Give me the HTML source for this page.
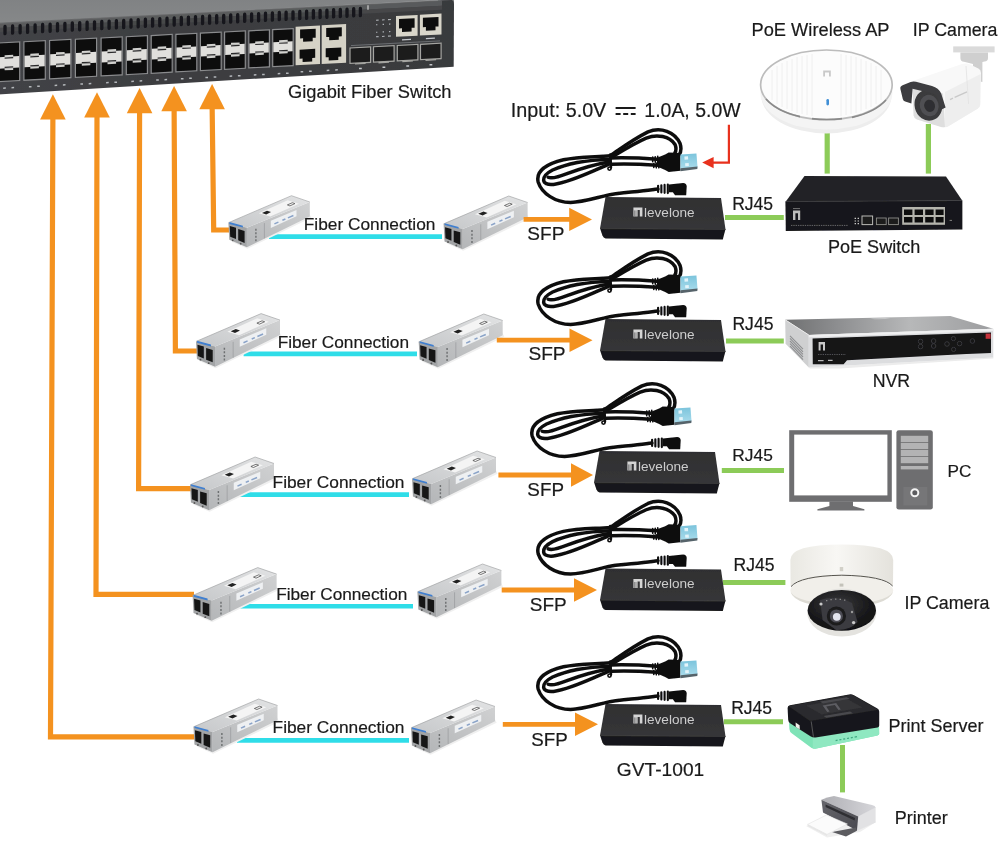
<!DOCTYPE html>
<html lang="en">
<head>
<meta charset="utf-8">
<title>GVT-1001 Application Diagram</title>
<style>
html,body{margin:0;padding:0;background:#fff;}
body{width:1000px;height:852px;overflow:hidden;}
svg{display:block;}
svg text{font-family:"Liberation Sans",sans-serif;fill:#1a1a1a;stroke:#1a1a1a;stroke-width:0.2px;}
</style>
</head>
<body>
<svg width="1000" height="852" viewBox="0 0 1000 852">
<defs>
<filter id="soft" filterUnits="userSpaceOnUse" x="-20" y="-20" width="1040" height="892"><feGaussianBlur stdDeviation="0.45"/></filter>
<linearGradient id="gTop" x1="0" y1="0" x2="0" y2="1">
  <stop offset="0" stop-color="#7e8082"/><stop offset="1" stop-color="#868889"/>
</linearGradient>
<linearGradient id="gFront" gradientUnits="userSpaceOnUse" x1="0" y1="0" x2="454" y2="0">
  <stop offset="0" stop-color="#424346"/><stop offset="0.35" stop-color="#3d3e41"/><stop offset="1" stop-color="#393a3d"/>
</linearGradient>
<linearGradient id="gSfpTop" x1="0" y1="1" x2="1" y2="0">
  <stop offset="0" stop-color="#c6c8ca"/><stop offset="1" stop-color="#e2e3e4"/>
</linearGradient>
<linearGradient id="gSfpSide" x1="0" y1="1" x2="1" y2="0">
  <stop offset="0" stop-color="#b4b6b8"/><stop offset="1" stop-color="#d0d1d2"/>
</linearGradient>
<linearGradient id="gBoxTop" x1="0" y1="0" x2="0" y2="1">
  <stop offset="0" stop-color="#2f2f31"/><stop offset="1" stop-color="#363638"/>
</linearGradient>
<linearGradient id="gUsb" x1="0" y1="0" x2="0" y2="1">
  <stop offset="0" stop-color="#7cc4dc"/><stop offset="1" stop-color="#a9dcec"/>
</linearGradient>

<g id="sfp">
  <!-- soft shadow -->
  <path d="M3 46 L19 53 L83 22 L81 18 Z" fill="#f0f0f0"/>
  <!-- side face -->
  <path d="M18.5 32 L81.4 6.3 L81.4 20.7 L18.5 51.5 Z" fill="url(#gSfpSide)"/>
  <!-- top face -->
  <path d="M0 27 L63.1 0 L81.4 6.3 L18.5 32 Z" fill="url(#gSfpTop)"/>
  <path d="M0 27 L63.1 0 L81.4 6.3" fill="none" stroke="#9a9c9e" stroke-width="0.6"/>
  <!-- top label -->
  <path d="M30.4 17.6 L59.3 4.6 L70.6 8 L41.8 20.9 Z" fill="#f4f4f4"/>
  <path d="M33.6 17.2 L38.6 15 L42.6 16.4 L37.8 18.8 Z" fill="#222"/>
  <path d="M59 9.2 L64 7 L66.5 7.9 L61.5 10.2 Z" fill="none" stroke="#444" stroke-width="0.7"/>
  <!-- side label -->
  <path d="M42.4 25 L68.1 14.2 L68.1 20.6 L42.4 32.2 Z" fill="#eef0f2"/>
  <path d="M46 28.2 L50 26.4 M54 24.6 L57 23.3 M59.5 22.2 L65 19.8" stroke="#8aa3c8" stroke-width="1.5" fill="none"/>
  <!-- side vents -->
  <path d="M27.5 33 v2 M27.5 36.5 v2 M27.5 40 v2 M27.5 43.5 v2" stroke="#6d6f71" stroke-width="1.4"/>
  <path d="M36 27.4 L36 42.7" stroke="#999b9d" stroke-width="0.7"/>
  <!-- front face -->
  <path d="M0 27 L18.5 32 L18.5 51.5 L0.9 44 Z" fill="#a2a4a6"/>
  <path d="M1.4 30.2 L7.6 32 L7.6 43.4 L1.8 41 Z" fill="#161616"/>
  <path d="M9.8 33.4 L16.2 35.2 L16.2 47.2 L9.8 44.6 Z" fill="#161616"/>
  <path d="M1 26.4 L14.5 30 L14.5 31.8 L1 28.2 Z" fill="#3f7fd0"/>
  <circle cx="4.3" cy="44.6" r="0.9" fill="#555"/>
  <circle cx="12.3" cy="48" r="0.9" fill="#555"/>
</g>

<g id="conv">
  <!-- cable + plugs: drawn in 5.556x zoom coordinates, body top-left corner at (411,422) -->
  <g transform="translate(-73.97,-75.95) scale(0.18)">
    <g fill="none" stroke="#101011" stroke-width="19.5" stroke-linecap="round" stroke-linejoin="round">
      <path d="M705 378 C660 385 560 395 470 404 C400 412 300 452 220 452 C130 452 60 400 40 340 C25 280 80 240 180 215 C260 198 350 200 440 193"/>
      <path d="M440 212 C350 215 210 230 120 272 C50 308 55 360 125 352 C220 340 350 274 440 236"/>
      <path d="M440 226 C370 238 280 262 200 292 C150 312 115 322 95 312"/>
      <path d="M440 192 C490 160 560 105 650 60 C720 30 800 60 828 125 C836 150 835 170 822 188"/>
      <path d="M445 203 C500 170 570 125 640 95 C700 70 770 85 800 130 C808 150 806 168 798 180"/>
      <path d="M445 205 C530 203 620 206 700 212"/>
      <path d="M445 240 C530 236 620 240 700 246"/>
      <path d="M440 186 L444 258" stroke-width="14"/>
      <circle cx="436" cy="264" r="9" stroke-width="9"/>
      <path d="M676 200 v26 M690 198 v30 M704 196 v32 M682 236 v22 M696 234 v26 M710 232 v28" stroke-width="9"/>
    </g>
    <!-- usb plug -->
    <path d="M700 204 L745 186 L765 175 L830 178 L830 276 L765 283 L745 272 L700 252 Z" fill="#101011"/>
    <path d="M830 186 L919 180 L925 256 L830 266 Z" fill="url(#gUsb)"/>
    <path d="M830 262 L925 252 L924 266 L830 279 Z" fill="#56646b"/>
    <path d="M852 197 l20 -1 l1 18 l-20 1 Z M856 234 l20 -1 l1 17 l-20 1 Z" fill="#e3f4fa"/>
    <!-- mini connector -->
    <path d="M706 360 V394 M724 357 V397 M742 355 V399 M760 353 V400" stroke="#101011" stroke-width="12" stroke-linecap="round" fill="none"/>
    <path d="M766 352 L845 344 Q864 346 865 362 L862 412 L800 412 L788 396 L766 396 Z" fill="#101011"/>
  </g>
  <!-- body -->
  <path d="M-5 31 L120.5 32 L117.8 42.4 L0.6 41.4 Q-1.6 41 -2.6 38.6 Z" fill="#19191a"/>
  <path d="M0.5 0 L116 1 L120.5 32.5 L-5 31.5 Z" fill="url(#gBoxTop)"/>
  <path d="M-5 31.5 L120.5 32.5" stroke="#3c3c3e" stroke-width="0.8" fill="none"/>
  <!-- logo + brand -->
  <path d="M28.4 10.4 h9 v9 h-2.6 v-6.4 h-2.2 v6.4 h-4.2 Z" fill="#d4d4d4"/><path d="M29.6 13.4 v6 M31 13.4 v6" stroke="#3a3a3c" stroke-width="0.5"/>
  <text x="39" y="19.6" font-size="12.6" textLength="50.6" lengthAdjust="spacingAndGlyphs" style="fill:#cdcdcd;stroke:none">levelone</text>
</g>

</defs>
<rect width="1000" height="852" fill="#fff"/>
<g filter="url(#soft)">
<g id="gswitch">
<path d="M-10 -10 H454 V4 L440 0.5 L-10 24 Z" fill="url(#gTop)"/>
<path d="M-10 23.7 L438 0.4 L452 0 Q454 1 454 4 L453.7 66.7 L-10 94.9 Z" fill="url(#gFront)"/>
<path d="M-10 23.9 L438 0.5" stroke="#a2a4a5" stroke-width="0.9" fill="none"/>
<g transform="matrix(1,-0.0505,0,1,0,0)">
<rect x="-10" y="22.6" width="452" height="5.4" fill="#5f6062" opacity="0.85"/>
<rect x="-10" y="28" width="452" height="4" fill="#4c4d4f" opacity="0.7"/>
<path d="M5.0 26.6 V33.8 M12.6 26.6 V33.8 M20.1 26.6 V33.8 M27.6 26.6 V33.8 M35.1 26.6 V33.8 M42.6 26.6 V33.8 M50.1 26.6 V33.8 M57.5 26.6 V33.8 M64.9 26.6 V33.8 M72.3 26.6 V33.8 M79.7 26.6 V33.8 M87.1 26.6 V33.8 M94.5 26.6 V33.8 M101.8 26.6 V33.8 M109.1 26.6 V33.8 M116.4 26.6 V33.8 M123.7 26.6 V33.8 M131.0 26.6 V33.8 M138.2 26.6 V33.8 M145.4 26.6 V33.8 M152.6 26.6 V33.8 M159.8 26.6 V33.8 M167.0 26.6 V33.8 M174.2 26.6 V33.8 M181.3 26.6 V33.8 M188.4 26.6 V33.8 M195.5 26.6 V33.8 M202.6 26.6 V33.8 M209.6 26.6 V33.8 M216.7 26.6 V33.8 M223.7 26.6 V33.8 M230.7 26.6 V33.8 M237.7 26.6 V33.8 M244.7 26.6 V33.8 M251.6 26.6 V33.8 M258.6 26.6 V33.8 M265.5 26.6 V33.8 M272.4 26.6 V33.8 M279.3 26.6 V33.8 M286.1 26.6 V33.8 M293.0 26.6 V33.8 M299.8 26.6 V33.8 M306.6 26.6 V33.8 M313.4 26.6 V33.8 M320.1 26.6 V33.8 M326.9 26.6 V33.8 M333.6 26.6 V33.8 M340.3 26.6 V33.8 M347.0 26.6 V33.8 M353.7 26.6 V33.8 M360.4 26.6 V33.8" stroke="#15161a" stroke-width="3.3" stroke-linecap="round" fill="none"/>
</g>
<g transform="matrix(1,-0.0525,0,1,0,0)">
<rect x="-1.8" y="42.9" width="21.5" height="38.6" fill="#0b0b0c" stroke="#8a8b8d" stroke-width="1.2"/>
<rect x="-1.2" y="57.1" width="20.3" height="11.5" fill="#e0dfdc"/>
<rect x="4.6" y="55.4" width="8.6" height="2" fill="#d2d2cf"/>
<rect x="4.6" y="57.8" width="8.6" height="1.2" fill="#2a2a2c"/>
<rect x="4.6" y="68.6" width="8.6" height="2" fill="#d2d2cf"/>
<rect x="4.6" y="67.0" width="8.6" height="1.2" fill="#2a2a2c"/>
<path d="M3.2 88.3 h2.6 M11.5 88.3 h2.6" stroke="#b4b7bb" stroke-width="1.5"/>
<rect x="23.9" y="43.0" width="21.4" height="38.5" fill="#0b0b0c" stroke="#8a8b8d" stroke-width="1.2"/>
<rect x="24.5" y="57.1" width="20.2" height="11.4" fill="#e0dfdc"/>
<rect x="30.3" y="55.4" width="8.6" height="2" fill="#d2d2cf"/>
<rect x="30.3" y="57.8" width="8.6" height="1.2" fill="#2a2a2c"/>
<rect x="30.3" y="68.4" width="8.6" height="2" fill="#d2d2cf"/>
<rect x="30.3" y="66.8" width="8.6" height="1.2" fill="#2a2a2c"/>
<path d="M28.9 88.3 h2.6 M37.2 88.3 h2.6" stroke="#b4b7bb" stroke-width="1.5"/>
<rect x="49.6" y="43.1" width="21.3" height="38.3" fill="#0b0b0c" stroke="#8a8b8d" stroke-width="1.2"/>
<rect x="50.2" y="57.0" width="20.1" height="11.2" fill="#e0dfdc"/>
<rect x="56.0" y="55.3" width="8.6" height="2" fill="#d2d2cf"/>
<rect x="56.0" y="57.7" width="8.6" height="1.2" fill="#2a2a2c"/>
<rect x="56.0" y="68.2" width="8.6" height="2" fill="#d2d2cf"/>
<rect x="56.0" y="66.6" width="8.6" height="1.2" fill="#2a2a2c"/>
<path d="M54.6 88.3 h2.6 M62.9 88.3 h2.6" stroke="#b4b7bb" stroke-width="1.5"/>
<rect x="75.4" y="43.2" width="21.2" height="38.1" fill="#0b0b0c" stroke="#8a8b8d" stroke-width="1.2"/>
<rect x="76.0" y="56.9" width="20.0" height="11.0" fill="#e0dfdc"/>
<rect x="81.8" y="55.2" width="8.6" height="2" fill="#d2d2cf"/>
<rect x="81.8" y="57.6" width="8.6" height="1.2" fill="#2a2a2c"/>
<rect x="81.8" y="68.0" width="8.6" height="2" fill="#d2d2cf"/>
<rect x="81.8" y="66.4" width="8.6" height="1.2" fill="#2a2a2c"/>
<path d="M80.4 88.3 h2.6 M88.7 88.3 h2.6" stroke="#b4b7bb" stroke-width="1.5"/>
<rect x="101.1" y="43.3" width="21.1" height="38.0" fill="#0b0b0c" stroke="#8a8b8d" stroke-width="1.2"/>
<rect x="101.7" y="56.9" width="19.9" height="10.9" fill="#e0dfdc"/>
<rect x="107.5" y="55.2" width="8.6" height="2" fill="#d2d2cf"/>
<rect x="107.5" y="57.6" width="8.6" height="1.2" fill="#2a2a2c"/>
<rect x="107.5" y="67.8" width="8.6" height="2" fill="#d2d2cf"/>
<rect x="107.5" y="66.2" width="8.6" height="1.2" fill="#2a2a2c"/>
<path d="M106.1 88.3 h2.6 M114.4 88.3 h2.6" stroke="#b4b7bb" stroke-width="1.5"/>
<rect x="126.3" y="43.4" width="21.1" height="37.8" fill="#0b0b0c" stroke="#8a8b8d" stroke-width="1.2"/>
<rect x="126.9" y="56.8" width="19.9" height="10.7" fill="#e0dfdc"/>
<rect x="132.7" y="55.1" width="8.6" height="2" fill="#d2d2cf"/>
<rect x="132.7" y="57.5" width="8.6" height="1.2" fill="#2a2a2c"/>
<rect x="132.7" y="67.6" width="8.6" height="2" fill="#d2d2cf"/>
<rect x="132.7" y="66.0" width="8.6" height="1.2" fill="#2a2a2c"/>
<path d="M131.3 88.3 h2.6 M139.6 88.3 h2.6" stroke="#b4b7bb" stroke-width="1.5"/>
<rect x="151.2" y="43.5" width="21.0" height="37.7" fill="#0b0b0c" stroke="#8a8b8d" stroke-width="1.2"/>
<rect x="151.8" y="56.8" width="19.8" height="10.6" fill="#e0dfdc"/>
<rect x="157.6" y="55.1" width="8.6" height="2" fill="#d2d2cf"/>
<rect x="157.6" y="57.5" width="8.6" height="1.2" fill="#2a2a2c"/>
<rect x="157.6" y="67.4" width="8.6" height="2" fill="#d2d2cf"/>
<rect x="157.6" y="65.8" width="8.6" height="1.2" fill="#2a2a2c"/>
<path d="M156.2 88.3 h2.6 M164.5 88.3 h2.6" stroke="#b4b7bb" stroke-width="1.5"/>
<rect x="175.9" y="43.6" width="20.9" height="37.5" fill="#0b0b0c" stroke="#8a8b8d" stroke-width="1.2"/>
<rect x="176.5" y="56.7" width="19.7" height="10.4" fill="#e0dfdc"/>
<rect x="182.3" y="55.0" width="8.6" height="2" fill="#d2d2cf"/>
<rect x="182.3" y="57.4" width="8.6" height="1.2" fill="#2a2a2c"/>
<rect x="182.3" y="67.2" width="8.6" height="2" fill="#d2d2cf"/>
<rect x="182.3" y="65.6" width="8.6" height="1.2" fill="#2a2a2c"/>
<path d="M180.9 88.3 h2.6 M189.2 88.3 h2.6" stroke="#b4b7bb" stroke-width="1.5"/>
<rect x="200.4" y="43.7" width="20.8" height="37.4" fill="#0b0b0c" stroke="#8a8b8d" stroke-width="1.2"/>
<rect x="201.0" y="56.7" width="19.6" height="10.3" fill="#e0dfdc"/>
<rect x="206.8" y="55.0" width="8.6" height="2" fill="#d2d2cf"/>
<rect x="206.8" y="57.4" width="8.6" height="1.2" fill="#2a2a2c"/>
<rect x="206.8" y="67.0" width="8.6" height="2" fill="#d2d2cf"/>
<rect x="206.8" y="65.4" width="8.6" height="1.2" fill="#2a2a2c"/>
<path d="M205.4 88.3 h2.6 M213.7 88.3 h2.6" stroke="#b4b7bb" stroke-width="1.5"/>
<rect x="224.6" y="43.8" width="20.7" height="37.3" fill="#0b0b0c" stroke="#8a8b8d" stroke-width="1.2"/>
<rect x="225.2" y="56.7" width="19.5" height="10.2" fill="#e0dfdc"/>
<rect x="231.0" y="55.0" width="8.6" height="2" fill="#d2d2cf"/>
<rect x="231.0" y="57.4" width="8.6" height="1.2" fill="#2a2a2c"/>
<rect x="231.0" y="66.8" width="8.6" height="2" fill="#d2d2cf"/>
<rect x="231.0" y="65.2" width="8.6" height="1.2" fill="#2a2a2c"/>
<path d="M229.6 88.3 h2.6 M237.9 88.3 h2.6" stroke="#b4b7bb" stroke-width="1.5"/>
<rect x="248.8" y="43.9" width="20.6" height="37.1" fill="#0b0b0c" stroke="#8a8b8d" stroke-width="1.2"/>
<rect x="249.4" y="56.6" width="19.4" height="10.0" fill="#e0dfdc"/>
<rect x="255.2" y="54.9" width="8.6" height="2" fill="#d2d2cf"/>
<rect x="255.2" y="57.3" width="8.6" height="1.2" fill="#2a2a2c"/>
<rect x="255.2" y="66.6" width="8.6" height="2" fill="#d2d2cf"/>
<rect x="255.2" y="65.0" width="8.6" height="1.2" fill="#2a2a2c"/>
<path d="M253.8 88.3 h2.6 M262.1 88.3 h2.6" stroke="#b4b7bb" stroke-width="1.5"/>
<rect x="272.7" y="44.0" width="20.5" height="37.0" fill="#0b0b0c" stroke="#8a8b8d" stroke-width="1.2"/>
<rect x="273.3" y="56.6" width="19.3" height="9.9" fill="#e0dfdc"/>
<rect x="279.1" y="54.9" width="8.6" height="2" fill="#d2d2cf"/>
<rect x="279.1" y="57.3" width="8.6" height="1.2" fill="#2a2a2c"/>
<rect x="279.1" y="66.4" width="8.6" height="2" fill="#d2d2cf"/>
<rect x="279.1" y="64.8" width="8.6" height="1.2" fill="#2a2a2c"/>
<path d="M277.7 88.3 h2.6 M286.0 88.3 h2.6" stroke="#b4b7bb" stroke-width="1.5"/>
<rect x="295.6" y="42.2" width="24.4" height="38.6" fill="#d5d2c6"/>
<path d="M300.1 45.2 h15.6 v9 h-3 v3.4 h-9.6 v-3.4 h-3 Z" fill="#0d0d0e"/>
<path d="M299.6 65.4 h15.6 v9 h-3 v3.4 h-9.6 v-3.4 h-3 Z" fill="#0d0d0e"/>
<path d="M300.6 87.6 h2.6 M309.1 87.6 h2.6" stroke="#b4b7bb" stroke-width="1.5"/>
<rect x="321.7" y="42.2" width="24.4" height="38.6" fill="#d5d2c6"/>
<path d="M326.2 45.2 h15.6 v9 h-3 v3.4 h-9.6 v-3.4 h-3 Z" fill="#0d0d0e"/>
<path d="M325.7 65.4 h15.6 v9 h-3 v3.4 h-9.6 v-3.4 h-3 Z" fill="#0d0d0e"/>
<path d="M326.7 87.6 h2.6 M335.2 87.6 h2.6" stroke="#b4b7bb" stroke-width="1.5"/>
<rect x="350" y="66.4" width="20.6" height="15.4" fill="#1a1a1c" stroke="#a5a5a1" stroke-width="1.2"/>
<path d="M355 82.6 h10.6" stroke="#a5a5a1" stroke-width="1.3"/>
<path d="M359 87.4 h2.8" stroke="#c5c8cc" stroke-width="1.5"/>
<rect x="373.5" y="66.4" width="20.6" height="15.4" fill="#1a1a1c" stroke="#a5a5a1" stroke-width="1.2"/>
<path d="M378.5 82.6 h10.6" stroke="#a5a5a1" stroke-width="1.3"/>
<path d="M382.5 87.4 h2.8" stroke="#c5c8cc" stroke-width="1.5"/>
<rect x="397.3" y="66.4" width="20.6" height="15.4" fill="#1a1a1c" stroke="#a5a5a1" stroke-width="1.2"/>
<path d="M402.3 82.6 h10.6" stroke="#a5a5a1" stroke-width="1.3"/>
<path d="M406.3 87.4 h2.8" stroke="#c5c8cc" stroke-width="1.5"/>
<rect x="420.5" y="66.4" width="20.6" height="15.4" fill="#1a1a1c" stroke="#a5a5a1" stroke-width="1.2"/>
<path d="M425.5 82.6 h10.6" stroke="#a5a5a1" stroke-width="1.3"/>
<path d="M429.5 87.4 h2.8" stroke="#c5c8cc" stroke-width="1.5"/>
<rect x="396" y="36.8" width="21.6" height="20.8" fill="#d8d5c9"/>
<path d="M399 40 h15.6 v9.4 h-3 v3.6 h-9.6 v-3.6 h-3 Z" fill="#0d0d0e"/>
<path d="M402 61 h9" stroke="#c5c8cc" stroke-width="1.3"/>
<rect x="419.9" y="36.8" width="21.6" height="20.8" fill="#d8d5c9"/>
<path d="M422.9 40 h15.6 v9.4 h-3 v3.6 h-9.6 v-3.6 h-3 Z" fill="#0d0d0e"/>
<path d="M425.9 61 h9" stroke="#c5c8cc" stroke-width="1.3"/>
<path d="M376 40 h2.6 M382 40 h2.6 M388 40 h3 M376 44.5 h1.4 M382.6 44.5 h1.4 M389 44.5 h1.4 M376 52 h1.4 M382.6 52 h1.4 M389 52 h1.4 M376 56.5 h2.6 M382 56.5 h2.6 M388 56.5 h3" stroke="#aeb1b5" stroke-width="1.1"/>
<path d="M351 64 H440" stroke="#8d9094" stroke-width="0.6"/>
<path d="M368 24.5 v4.5" stroke="#d0d0d0" stroke-width="1.2"/>
</g>
</g>
</g>
<path d="M212.1 104 L213.7 230 H230" fill="none" stroke="#f4921f" stroke-width="5.2" stroke-linejoin="miter"/>
<path d="M212.1 84 L224.9 109.3 H199.29999999999998 Z" fill="#f4921f"/>
<path d="M174.1 106 L175.4 351 H198" fill="none" stroke="#f4921f" stroke-width="5.2" stroke-linejoin="miter"/>
<path d="M174.1 86 L186.9 111.3 H161.29999999999998 Z" fill="#f4921f"/>
<path d="M139.6 108 L138.6 488.6 H192" fill="none" stroke="#f4921f" stroke-width="5.2" stroke-linejoin="miter"/>
<path d="M139.6 88 L152.4 113.3 H126.8 Z" fill="#f4921f"/>
<path d="M97 112.3 L96 594.3 H194" fill="none" stroke="#f4921f" stroke-width="5.2" stroke-linejoin="miter"/>
<path d="M97 92.3 L109.8 117.6 H84.2 Z" fill="#f4921f"/>
<path d="M52.9 114.3 L50.5 736.8 H195" fill="none" stroke="#f4921f" stroke-width="5.2" stroke-linejoin="miter"/>
<path d="M52.9 94.3 L65.7 119.6 H40.099999999999994 Z" fill="#f4921f"/>
<line x1="269" y1="236.6" x2="442" y2="236.6" stroke="#2fdde8" stroke-width="4.6"/>
<line x1="725" y1="217.5" x2="783.8" y2="217.5" stroke="#8ccb58" stroke-width="5"/>
<g filter="url(#soft)">
<use href="#sfp" transform="translate(228.4,195.7) scale(1.0)"/>
<use href="#sfp" transform="translate(443.6,196) scale(1.032)"/>
<use href="#conv" x="605" y="197"/>
</g>
<path d="M523.6 217.0 H569.2 V207.70000000000002 L592 219.4 L569.2 231.1 V221.8 H523.6 Z" fill="#f4921f"/>
<text x="303.75" y="230.2" font-size="17.29" textLength="131.71" lengthAdjust="spacingAndGlyphs">Fiber Connection</text>
<text x="527.35" y="240" font-size="19.02" textLength="37.00" lengthAdjust="spacingAndGlyphs">SFP</text>
<text x="732.15" y="209.6" font-size="17.56" textLength="40.99" lengthAdjust="spacingAndGlyphs">RJ45</text>
<line x1="243.6" y1="353.9" x2="417" y2="353.9" stroke="#2fdde8" stroke-width="4.6"/>
<line x1="726" y1="341" x2="783.8" y2="341" stroke="#8ccb58" stroke-width="5"/>
<g filter="url(#soft)">
<use href="#sfp" transform="translate(196,313.6) scale(1.032)"/>
<use href="#sfp" transform="translate(418.7,314) scale(1.032)"/>
<use href="#conv" x="605" y="319"/>
</g>
<path d="M496.8 337.8 H569.5 V328.5 L592.5 340.2 L569.5 351.9 V342.59999999999997 H496.8 Z" fill="#f4921f"/>
<text x="277.65" y="348" font-size="17.26" textLength="131.41" lengthAdjust="spacingAndGlyphs">Fiber Connection</text>
<text x="528.45" y="360.3" font-size="19.13" textLength="37.20" lengthAdjust="spacingAndGlyphs">SFP</text>
<text x="732.45" y="329.8" font-size="17.56" textLength="40.99" lengthAdjust="spacingAndGlyphs">RJ45</text>
<line x1="237" y1="494.6" x2="409" y2="494.6" stroke="#2fdde8" stroke-width="4.6"/>
<line x1="721.8" y1="470.4" x2="784" y2="470.4" stroke="#8ccb58" stroke-width="5"/>
<g filter="url(#soft)">
<use href="#sfp" transform="translate(190,457) scale(1.032)"/>
<use href="#sfp" transform="translate(412,451) scale(1.032)"/>
<use href="#conv" x="599" y="451"/>
</g>
<path d="M498.4 472.6 H571 V463.3 L593 475 L571 486.7 V477.4 H498.4 Z" fill="#f4921f"/>
<text x="272.55" y="488.4" font-size="17.32" textLength="131.91" lengthAdjust="spacingAndGlyphs">Fiber Connection</text>
<text x="527.35" y="495.6" font-size="18.87" textLength="36.70" lengthAdjust="spacingAndGlyphs">SFP</text>
<text x="732.35" y="460.8" font-size="17.34" textLength="40.49" lengthAdjust="spacingAndGlyphs">RJ45</text>
<line x1="240.4" y1="606.2" x2="413" y2="606.2" stroke="#2fdde8" stroke-width="4.6"/>
<line x1="722.6" y1="582.4" x2="785.4" y2="582.4" stroke="#8ccb58" stroke-width="5"/>
<g filter="url(#soft)">
<use href="#sfp" transform="translate(192.6,567.6) scale(1.032)"/>
<use href="#sfp" transform="translate(417.4,564) scale(1.032)"/>
<use href="#conv" x="605" y="568.6"/>
</g>
<path d="M501.7 587.6 H574 V578.3 L597 590 L574 601.7 V592.4 H501.7 Z" fill="#f4921f"/>
<text x="276.15" y="599.8" font-size="17.23" textLength="131.21" lengthAdjust="spacingAndGlyphs">Fiber Connection</text>
<text x="529.75" y="611.4" font-size="18.97" textLength="36.90" lengthAdjust="spacingAndGlyphs">SFP</text>
<text x="733.55" y="571.2" font-size="17.60" textLength="41.09" lengthAdjust="spacingAndGlyphs">RJ45</text>
<line x1="237" y1="740.4" x2="409" y2="740.4" stroke="#2fdde8" stroke-width="4.6"/>
<line x1="723.8" y1="721.7" x2="783" y2="721.7" stroke="#8ccb58" stroke-width="5"/>
<g filter="url(#soft)">
<use href="#sfp" transform="translate(193.5,699) scale(1.032)"/>
<use href="#sfp" transform="translate(411,700) scale(1.032)"/>
<use href="#conv" x="605" y="704"/>
</g>
<path d="M502.8 721.9 H575 V712.5999999999999 L598 724.3 L575 736.0 V726.6999999999999 H502.8 Z" fill="#f4921f"/>
<text x="272.55" y="733.3" font-size="17.32" textLength="131.91" lengthAdjust="spacingAndGlyphs">Fiber Connection</text>
<text x="531.35" y="746" font-size="18.77" textLength="36.50" lengthAdjust="spacingAndGlyphs">SFP</text>
<text x="731.15" y="713.6" font-size="17.52" textLength="40.89" lengthAdjust="spacingAndGlyphs">RJ45</text>
<text x="288.05" y="97.9" font-size="18.27" textLength="163.46" lengthAdjust="spacingAndGlyphs">Gigabit Fiber Switch</text>
<text x="510.75" y="117" font-size="19.75" textLength="95.54" lengthAdjust="spacingAndGlyphs">Input: 5.0V</text>
<text x="644.35" y="117" font-size="19.45" textLength="96.24" lengthAdjust="spacingAndGlyphs">1.0A, 5.0W</text>
<path d="M615.6 108.1 H635.6 M615.6 113.9 H620.6 M623.2 113.9 H628.2 M630.8 113.9 H635.6" stroke="#1a1a1a" stroke-width="2" fill="none"/>
<text x="751.55" y="35.8" font-size="18.25" textLength="137.97" lengthAdjust="spacingAndGlyphs">PoE Wireless AP</text>
<text x="912.75" y="35.6" font-size="17.78" textLength="84.64" lengthAdjust="spacingAndGlyphs">IP Camera</text>
<text x="827.95" y="253" font-size="18.06" textLength="92.37" lengthAdjust="spacingAndGlyphs">PoE Switch</text>
<text x="872.65" y="387" font-size="17.73" textLength="37.42" lengthAdjust="spacingAndGlyphs">NVR</text>
<text x="947.55" y="477.4" font-size="17.19" textLength="23.89" lengthAdjust="spacingAndGlyphs">PC</text>
<text x="904.45" y="608.9" font-size="17.84" textLength="84.94" lengthAdjust="spacingAndGlyphs">IP Camera</text>
<text x="888.45" y="732.1" font-size="17.99" textLength="94.99" lengthAdjust="spacingAndGlyphs">Print Server</text>
<text x="894.75" y="823.6" font-size="17.96" textLength="52.91" lengthAdjust="spacingAndGlyphs">Printer</text>
<text x="616.85" y="776.3" font-size="19.17" textLength="87.37" lengthAdjust="spacingAndGlyphs">GVT-1001</text>
<path d="M728.9 124.8 V162.6 H712" fill="none" stroke="#e8311d" stroke-width="2.2"/>
<path d="M702.2 162.6 L713.6 157 V168.2 Z" fill="#e8311d"/>
<line x1="827.2" y1="130" x2="827.2" y2="173.6" stroke="#8ccb58" stroke-width="5.2"/>
<line x1="928.4" y1="124" x2="928.4" y2="173.6" stroke="#8ccb58" stroke-width="5.2"/>
<line x1="842.5" y1="745" x2="842.5" y2="792.4" stroke="#8ccb58" stroke-width="5"/>
<g filter="url(#soft)">
<!-- ===== PoE wireless AP ===== -->
<g id="ap">
  <ellipse cx="826.4" cy="96" rx="65" ry="37.4" fill="#ededed"/>
  <ellipse cx="826.4" cy="93" rx="66" ry="36.6" fill="#f4f4f4"/>
  <ellipse cx="826.4" cy="84.8" rx="65.8" ry="34.8" fill="#fcfcfc" stroke="#bcbcbc" stroke-width="1.7"/>
  <path d="M766 99 A66 35 0 0 0 800 116.6 M812 118.6 A66 35 0 0 0 842 118.6 M852 117.4 A66 35 0 0 0 886 100" fill="none" stroke="#8a8a8a" stroke-width="1.6"/>
  <g stroke="#ececec" stroke-width="0.8" fill="none">
    <path d="M772 70 V100 M777 66 V104 M782 63 V107 M787 61 V109 M792 59 V111 M797 57 V113 M802 56 V114 M807 55 V115 M812 54 V116"/>
    <path d="M841 54 V116 M846 55 V115 M851 56 V114 M856 57 V113 M861 59 V111 M866 61 V109 M871 63 V107 M876 66 V104 M881 70 V100"/>
  </g>
  <path d="M823.2 70.6 h7.6 v6 h-1.8 v-4.2 h-4 v4.2 h-1.8 Z" fill="#c9c9c9"/>
  <rect x="826.4" y="99" width="2.6" height="6.4" rx="1.3" fill="#3f8fd6"/>
</g>

<!-- ===== bullet IP camera ===== -->
<g id="bullet">
  <rect x="953.2" y="46.4" width="41.4" height="6" fill="#dadada"/>
  <path d="M960.4 52.4 H988 V58 Q988 61.4 984.5 61.6 L982.4 62 V82 L973 80 V64 L964 61.8 Q960.4 61.4 960.4 58 Z" fill="#cfcfcf"/>
  <!-- body -->
  <path d="M911.5 86 Q910.6 82 914 80.6 L962 64 Q966 62.6 970 64.4 L978.4 68.6 Q981 70 981 73 L980.4 104 Q980.4 107 978 108.4 L948 126.6 Q945 128 942 127 L917 119.4 Q914 118.6 913.6 115.6 Z" fill="#f8f8f8"/>
  <path d="M945 92 L980.6 74 L980.2 105 Q980 107 978 108.4 L948 126.6 Q946 127.4 945 127 Z" fill="#eeeeee"/>
  <path d="M966 66 L968.6 104" stroke="#e2e2e2" stroke-width="0.8" fill="none"/>
  <!-- front panel -->
  <path d="M912.6 88 L943 93.6 L945 127 Q943 127.6 941 127 L917 119.6 Q914 118.6 913.6 115.6 Z" fill="#dedede"/>
  <!-- lens -->
  <ellipse cx="928.4" cy="105.2" rx="13.8" ry="15.6" fill="#3a3a3c" transform="rotate(-14 928.4 105.2)"/>
  <ellipse cx="929.2" cy="105.6" rx="9.4" ry="10.8" fill="#505053" transform="rotate(-14 929.2 105.6)"/>
  <ellipse cx="929.6" cy="105.8" rx="5.4" ry="6.2" fill="#2f2f31" transform="rotate(-14 929.6 105.8)"/>
  <!-- hood -->
  <path d="M900.4 89 Q899.8 86.4 902.6 85.2 L910.6 82 Q913 81.2 916 81.8 L932 86 Q938.6 88 941.2 93.4 L945.6 107.6 L941.6 109.6 L937.4 97.6 Q936.4 94.8 933.4 93.8 L912.6 88.8 L911.4 103.4 L905.2 101.6 Q903.4 101 902.8 99 Z" fill="#3d3d3f"/>
  <path d="M950 99.6 L953 98.2 M954.6 97.4 L967 91.8" stroke="#c9c9c9" stroke-width="1.3" fill="none"/>
</g>

<!-- ===== PoE switch ===== -->
<g id="poe">
  <path d="M804.5 176 L946 176.4 L962.2 200.6 L785.6 201.8 Z" fill="#232326"/>
  <path d="M785.4 201.4 L962.4 200.4 L962.4 229.6 L785.8 231 Z" fill="#17171a"/>
  <path d="M785.6 201.6 L962.2 200.5" stroke="#3c3c40" stroke-width="0.8" fill="none"/>
  <!-- logo -->
  <path d="M793 210.4 h7.2 v9.6 h-2.2 v-6.8 h-2.6 v6.8 h-2.4 Z" fill="#bdbdbd"/><path d="M793 208.6 h7" stroke="#8d8d8d" stroke-width="0.8"/>
  <path d="M791 225.4 H848" stroke="#707074" stroke-width="0.9" stroke-dasharray="1.4 0.9"/>
  <!-- leds -->
  <path d="M854.6 218.4 h1.4 M857.6 218.4 h1.4 M854.6 221 h1.4 M857.6 221 h1.4 M854.6 223.6 h1.4 M857.6 223.6 h1.4" stroke="#c9c9c9" stroke-width="1.2"/>
  <!-- rj45 single -->
  <rect x="862" y="216" width="10.6" height="8.6" fill="#1c1c1e" stroke="#b9b9b5" stroke-width="1"/>
  <!-- sfp -->
  <rect x="876.4" y="218" width="9.8" height="6.6" fill="#1c1c1e" stroke="#8d8d8a" stroke-width="0.9"/>
  <rect x="888.6" y="218" width="9.8" height="6.6" fill="#1c1c1e" stroke="#8d8d8a" stroke-width="0.9"/>
  <!-- 8 port block -->
  <rect x="902.2" y="207" width="42.8" height="17.8" fill="#b4b4ac"/>
  <g fill="#0e0e10">
    <path d="M904 209.4 h8.4 v5.6 h-8.4 Z M914.6 209.4 h8.4 v5.6 h-8.4 Z M925.2 209.4 h8.4 v5.6 h-8.4 Z M935.6 209.4 h8 v5.6 h-8 Z"/>
    <path d="M904 217 h8.4 v5.6 h-8.4 Z M914.6 217 h8.4 v5.6 h-8.4 Z M925.2 217 h8.4 v5.6 h-8.4 Z M935.6 217 h8 v5.6 h-8 Z"/>
  </g>
  <path d="M949.6 220.4 h2.4" stroke="#9a9a9a" stroke-width="0.8"/>
</g>

<!-- ===== NVR ===== -->
<linearGradient id="gNvrTop" x1="0" y1="0" x2="1" y2="0">
  <stop offset="0" stop-color="#6f7071"/><stop offset="0.25" stop-color="#8d8e90"/><stop offset="0.6" stop-color="#b7b8b9"/><stop offset="1" stop-color="#9c9d9f"/>
</linearGradient>
<g id="nvr">
  <path d="M808.8 367.6 L993.3 357.6 L993.3 358.6 L840 368.4 L810 368.6 Z" fill="#ececec"/>
  <path d="M785.2 319.8 L950.4 316 L993.3 328.8 L808.8 335 Z" fill="url(#gNvrTop)"/>
  <path d="M870 318.4 Q880 320.6 892 317.8 Z" fill="#c6c7c8"/>
  <path d="M785.2 319.8 L808.8 335 L808.8 367.5 L785.6 343.8 Z" fill="#cfd0d1"/>
  <path d="M785.2 319.8 L808.8 335" stroke="#e9e9e9" stroke-width="1" fill="none"/>
  <path d="M790 341 l13 13.4 M790 343.6 l13 13.4 M790 346.2 l13 13.4 M790 338.4 l13 13.4 M790 335.8 l13 13.4" stroke="#8f9092" stroke-width="1.1"/>
  <path d="M808.8 334.9 L993.3 328.8 L993.3 357.4 L808.8 367.5 Z" fill="#dcdddf"/>
  <path d="M808.8 334.9 L993.3 328.8 L993.3 331 L808.8 337.2 Z" fill="#f0f0f1"/>
  <path d="M812.6 338.4 L991 332.4 L991 352.9 L966.3 354.1 L847 360.3 L843.6 364.2 L812.8 364.2 Z" fill="#121214"/>
  <path d="M818.6 342 h6.4 v8.6 h-2 v-6 h-2.4 v6 h-2 Z" fill="#c9c9c9"/>
  <path d="M818 354.4 H846" stroke="#6d6d70" stroke-width="0.8" stroke-dasharray="1.4 0.9"/>
  <path d="M818 360.6 h5.6 M828 360.4 h4.6" stroke="#b9b9b9" stroke-width="1.1"/>
  <g fill="none" stroke="#3d3d41" stroke-width="0.9">
    <circle cx="920.6" cy="341.4" r="2.3"/><circle cx="920.6" cy="346.6" r="2.3"/><circle cx="933.6" cy="341" r="2.3"/><circle cx="933.6" cy="346" r="2.3"/>
    <circle cx="947" cy="344" r="2.3"/><circle cx="953.4" cy="338.6" r="2.1"/><circle cx="953.6" cy="349.4" r="2.1"/><circle cx="959.6" cy="343.6" r="2.3"/>
    <circle cx="972.4" cy="341" r="2.3"/>
  </g>
  <rect x="985.6" y="333.6" width="5" height="5.2" fill="#c5323b"/>
</g>

<!-- ===== PC ===== -->
<g id="pc">
  <rect x="789.2" y="430.2" width="102.6" height="71.6" fill="#6e6e70"/>
  <rect x="794.2" y="434.6" width="93.2" height="60.8" fill="#ffffff"/>
  <path d="M829.4 501.6 H853 V506 L864.4 509.2 V510.4 H817.4 V509.2 L829.4 506 Z" fill="#6e6e70"/>
  <rect x="896.4" y="430.2" width="36.4" height="79.4" rx="2.4" fill="#6e6e70"/>
  <g fill="#b3b3b4">
    <rect x="900.8" y="435.8" width="27.4" height="6.2"/>
    <rect x="900.8" y="442.8" width="27.4" height="6.2"/>
    <rect x="900.8" y="449.8" width="27.4" height="6.2"/>
    <rect x="900.8" y="456.8" width="27.4" height="6.4"/>
    <rect x="900.8" y="466" width="27.4" height="3.4"/>
  </g>
  <rect x="903.4" y="487" width="23.8" height="18.4" fill="#767678"/>
  <circle cx="914.8" cy="492.8" r="3.5" fill="#5c5c5e" stroke="#f2f2f2" stroke-width="2"/>
</g>

<!-- ===== dome IP camera ===== -->
<radialGradient id="gDome" cx="0.45" cy="0.35" r="0.75">
  <stop offset="0" stop-color="#3a3a3c"/><stop offset="0.6" stop-color="#19191b"/><stop offset="1" stop-color="#0c0c0d"/>
</radialGradient>
<linearGradient id="gDomeBody" x1="0" y1="0" x2="1" y2="0">
  <stop offset="0" stop-color="#e9e8e2"/><stop offset="0.45" stop-color="#f8f7f4"/><stop offset="1" stop-color="#e4e2dc"/>
</linearGradient>
<g id="domecam">
  <!-- ring seen from below -->
  <ellipse cx="841.8" cy="590.6" rx="51.4" ry="16.2" fill="#f1efea"/>
  <path d="M790.6 592 Q795 606.6 841.8 607 Q888 606.6 893 592 Q885 603.6 841.8 604 Q798 603.6 790.6 592 Z" fill="#dddbd4"/>
  <!-- glass bubble -->
  <ellipse cx="841.8" cy="612.6" rx="34.6" ry="24" fill="#e4e3df"/>
  <ellipse cx="841.8" cy="610.4" rx="34.2" ry="20.4" fill="url(#gDome)"/>
  <!-- lens assembly -->
  <path d="M820 600 Q836 595 852 603 L857.6 622 Q850 630.6 836 630 L822.6 620 Z" fill="#3b3b3f"/>
  <circle cx="836.4" cy="616" r="9.6" fill="#1b1b1d"/>
  <circle cx="836.4" cy="616" r="6.6" fill="#4d4d55"/>
  <circle cx="836.8" cy="616.8" r="3.9" fill="#e2e4ee"/>
  <circle cx="821" cy="604" r="1.6" fill="#c9c9c9"/>
  <circle cx="853.6" cy="622.6" r="1.7" fill="#c9c9c9"/>
  <circle cx="852" cy="612" r="1.2" fill="#9a9a9a"/>
  <path d="M826 600.6 l1.4 0 M830.4 599.6 l1.4 0 M835 599.2 l1.4 0 M839.6 599.4 l1.4 0 M844 600.2 l1.4 0" stroke="#8a8a8a" stroke-width="1.3"/>
  <!-- upper housing -->
  <path d="M790.4 560 Q790.4 544.6 841.8 544.6 Q893.2 544.6 893.2 560 L893 586.4 Q884 575.6 841.8 575 Q800 575.6 790.6 586.4 Z" fill="url(#gDomeBody)"/>
  <path d="M791 586.6 Q800 576 841.8 575.2 Q884 576 892.6 586" fill="none" stroke="#55534d" stroke-width="1"/>
  <rect x="839.8" y="567" width="3.4" height="4.2" fill="#d2d0c8"/>
  <rect x="839.6" y="583.6" width="3.8" height="3" fill="#c4c2ba"/>
</g>

<!-- ===== print server ===== -->
<g id="pserver">
  <!-- green base -->
  <path d="M789 722 L812.8 737 L879 726 L879.2 733.4 Q879.2 735 877.4 735.6 L816.4 748.6 Q813.8 749.2 811.6 748 L792 733.6 Q789.6 732 789.4 729 Z" fill="#7fe3b7"/>
  <path d="M812.8 737 L879 726 L879.2 733.4 Q879.2 735 877.4 735.6 L816.4 748.6 Q814 749 812.8 748.6 Z" fill="#8fe8c1"/>
  <!-- black body -->
  <path d="M787.6 708 Q787.4 705.8 790 705.2 L849 694.4 Q851.6 694 854 695.2 L877.4 708.6 Q879.2 709.6 879.2 711.6 L879.2 725.6 Q879.2 727 877.6 727.4 L815.6 737.4 Q813 737.8 810.8 736.4 L790.4 723.6 Q788.4 722.4 788.2 720 Z" fill="#19191b"/>
  <!-- top face -->
  <path d="M788.4 706 L850.6 694.8 Q852 694.6 853.4 695.4 L878.4 709.8 L811.6 720.8 Q810.4 721 809.4 720.4 Z" fill="#2a2a2d"/>
  <path d="M806 705.6 L846.6 698.6 L862.6 707.6 L821.6 714.6 Z" fill="#343437"/>
  <path d="M820 701.6 L846.6 697.2 L849.6 698.8 L823 703.4 Z" fill="#4a4a4e"/>
  <path d="M823.6 716 L850 711.6 L853 713.2 L826.4 717.8 Z" fill="#4a4a4e"/>
  <path d="M822.6 705.4 l13.6 -2.4 l4.6 6.6 l-2.4 0.4 l-3.6 -5 l-8.6 1.6 l3.4 5 l-2.4 0.4 Z" fill="#5d5d62"/>
  <path d="M811.2 721.4 L813.4 736.6" stroke="#6d6d72" stroke-width="0.7"/>
  <path d="M795.6 722.6 L799.6 725.2 L799.8 729.6 L795.8 727 Z" fill="#efefe9"/>
  <path d="M835.6 740.6 l2 -0.4 M839.4 739.9 l2 -0.4 M843.2 739.2 l2 -0.4 M847 738.5 l2 -0.4 M850.8 737.8 l2 -0.4 M854.6 737.1 l2.4 -0.4" stroke="#3fa881" stroke-width="1.2"/>
</g>

<!-- ===== printer ===== -->
<linearGradient id="gPrTop" x1="0" y1="0" x2="1" y2="0">
  <stop offset="0" stop-color="#aeaeb3"/><stop offset="1" stop-color="#d6d6da"/>
</linearGradient>
<linearGradient id="gPrSlot" x1="0" y1="0" x2="1" y2="1">
  <stop offset="0" stop-color="#66666c"/><stop offset="1" stop-color="#4a4a50"/>
</linearGradient>
<g id="printer">
  <path d="M806 826 L827 837.6 L860 832 L876 822 L850 812 Z" fill="#efefef"/>
  <!-- right face -->
  <path d="M858.2 816.3 L875.6 807 L875.6 822.6 L857.2 830.8 Z" fill="#e2e2e4"/>
  <!-- top -->
  <path d="M821.4 799.8 Q827 797 834 796 L872 805 Q875.4 806 875.6 807.4 L858.2 816.6 Z" fill="url(#gPrTop)"/>
  <!-- slot / front -->
  <path d="M821.4 799.8 L858.2 816.4 L857 830.6 L823 812.4 Z" fill="url(#gPrSlot)"/>
  <path d="M825.6 804.4 L855 818 L854.6 820.4 L825.6 807 Z" fill="#2d2d31"/>
  <!-- tray -->
  <path d="M832 832 L856 827.6 L857 830.8 L846 836.6 Z" fill="#5b5b60"/>
  <!-- paper -->
  <path d="M807.6 824.4 L826.4 815 L847.4 824 L827 834.4 Z" fill="#fbfbfb" stroke="#e2e2e2" stroke-width="0.6"/>
  <path d="M807.6 824.4 L827 834.4 L827 836 L807.6 826 Z" fill="#e6e6e6"/>
</g>

</g>
</svg>
</body>
</html>
